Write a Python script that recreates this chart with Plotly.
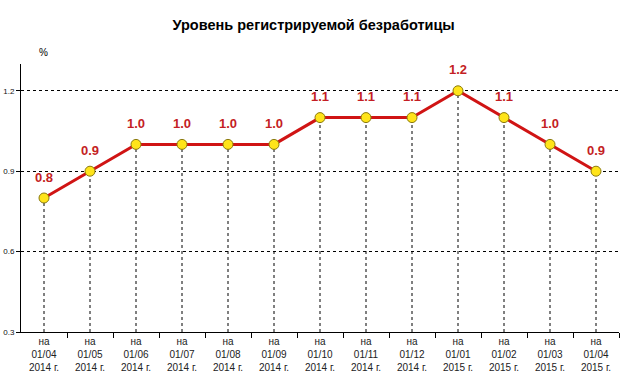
import plotly.graph_objects as go

categories = ["на<br>01/04<br>2014 г.", "на<br>01/05<br>2014 г.", "на<br>01/06<br>2014 г.",
              "на<br>01/07<br>2014 г.", "на<br>01/08<br>2014 г.", "на<br>01/09<br>2014 г.",
              "на<br>01/10<br>2014 г.", "на<br>01/11<br>2014 г.", "на<br>01/12<br>2014 г.",
              "на<br>01/01<br>2015 г.", "на<br>01/02<br>2015 г.", "на<br>01/03<br>2015 г.",
              "на<br>01/04<br>2015 г."]
values = [0.8, 0.9, 1.0, 1.0, 1.0, 1.0, 1.1, 1.1, 1.1, 1.2, 1.1, 1.0, 0.9]
labels = ["0.8", "0.9", "1.0", "1.0", "1.0", "1.0", "1.1", "1.1", "1.1", "1.2", "1.1", "1.0", "0.9"]
y_ticks = [0.3, 0.6, 0.9, 1.2]
y_tick_text = ["0.3", "0.6", "0.9", "1.2"]

x_idx = list(range(len(categories)))
FONT = "Liberation Sans, Arial"

fig = go.Figure()

# vertical dashed drop lines from each point to the axis
for i, v in zip(x_idx, values):
    fig.add_trace(go.Scatter(x=[i, i], y=[0.3, v], mode="lines",
                             line=dict(color="black", width=1, dash="3px,3px"),
                             hoverinfo="skip", showlegend=False))

fig.add_trace(go.Scatter(
    x=x_idx, y=values, mode="lines+markers",
    line=dict(color="#d01414", width=3),
    marker=dict(size=10, color="#ffe41a", line=dict(color="#8a7a10", width=1)),
    showlegend=False,
))

for i, v, t in zip(x_idx, values, labels):
    fig.add_annotation(x=i, y=v, text="<b>%s</b>" % t, showarrow=False, yshift=21,
                       font=dict(family=FONT, size=13, color="#c41e24"))

fig.add_annotation(xref="paper", yref="paper", x=0.037, y=1.0, yshift=4,
                   xanchor="center", yanchor="bottom",
                   text="%", showarrow=False,
                   font=dict(family=FONT, size=10, color="black"))

# dummy trace on xaxis2 so its ticks render
fig.add_trace(go.Scatter(x=[0], y=[None], xaxis="x2", showlegend=False, hoverinfo="skip"))

fig.update_layout(
    width=644, height=388,
    margin=dict(l=21, r=25, t=64, b=56, autoexpand=False),
    paper_bgcolor="white", plot_bgcolor="white",
    title=dict(text="<b>Уровень регистрируемой безработицы</b>", x=0.487, xanchor="center",
               y=0.935, yanchor="middle", yref="container",
               font=dict(family=FONT, size=14.5, color="black")),
    xaxis=dict(
        range=[-0.5, len(categories) - 0.5], automargin=False,
        tickmode="array", tickvals=x_idx, ticktext=categories,
        showgrid=False, zeroline=False,
        showline=True, linecolor="black", linewidth=1,
        ticks="", tickfont=dict(family=FONT, size=10, color="#222"),
        fixedrange=True,
    ),
    xaxis2=dict(
        overlaying="x", range=[-0.5, len(categories) - 0.5], automargin=False,
        tickmode="array", tickvals=[i + 0.5 for i in x_idx],
        showticklabels=False, ticks="outside", ticklen=5, tickcolor="black",
        showgrid=False, zeroline=False, side="bottom", anchor="y",
    ),
    yaxis=dict(
        range=[0.3, 1.3], automargin=False,
        tickmode="array", tickvals=y_ticks, ticktext=y_tick_text,
        showgrid=True, gridcolor="black", griddash="3px,3px", gridwidth=1,
        zeroline=False, showline=True, linecolor="black", linewidth=1,
        ticks="outside", ticklen=4, tickcolor="black",
        tickfont=dict(family=FONT, size=8, color="#111"),
        fixedrange=True,
    ),
)

fig.write_html("out.html", config={"displayModeBar": False},
               post_script="document.body.style.margin='0';")
